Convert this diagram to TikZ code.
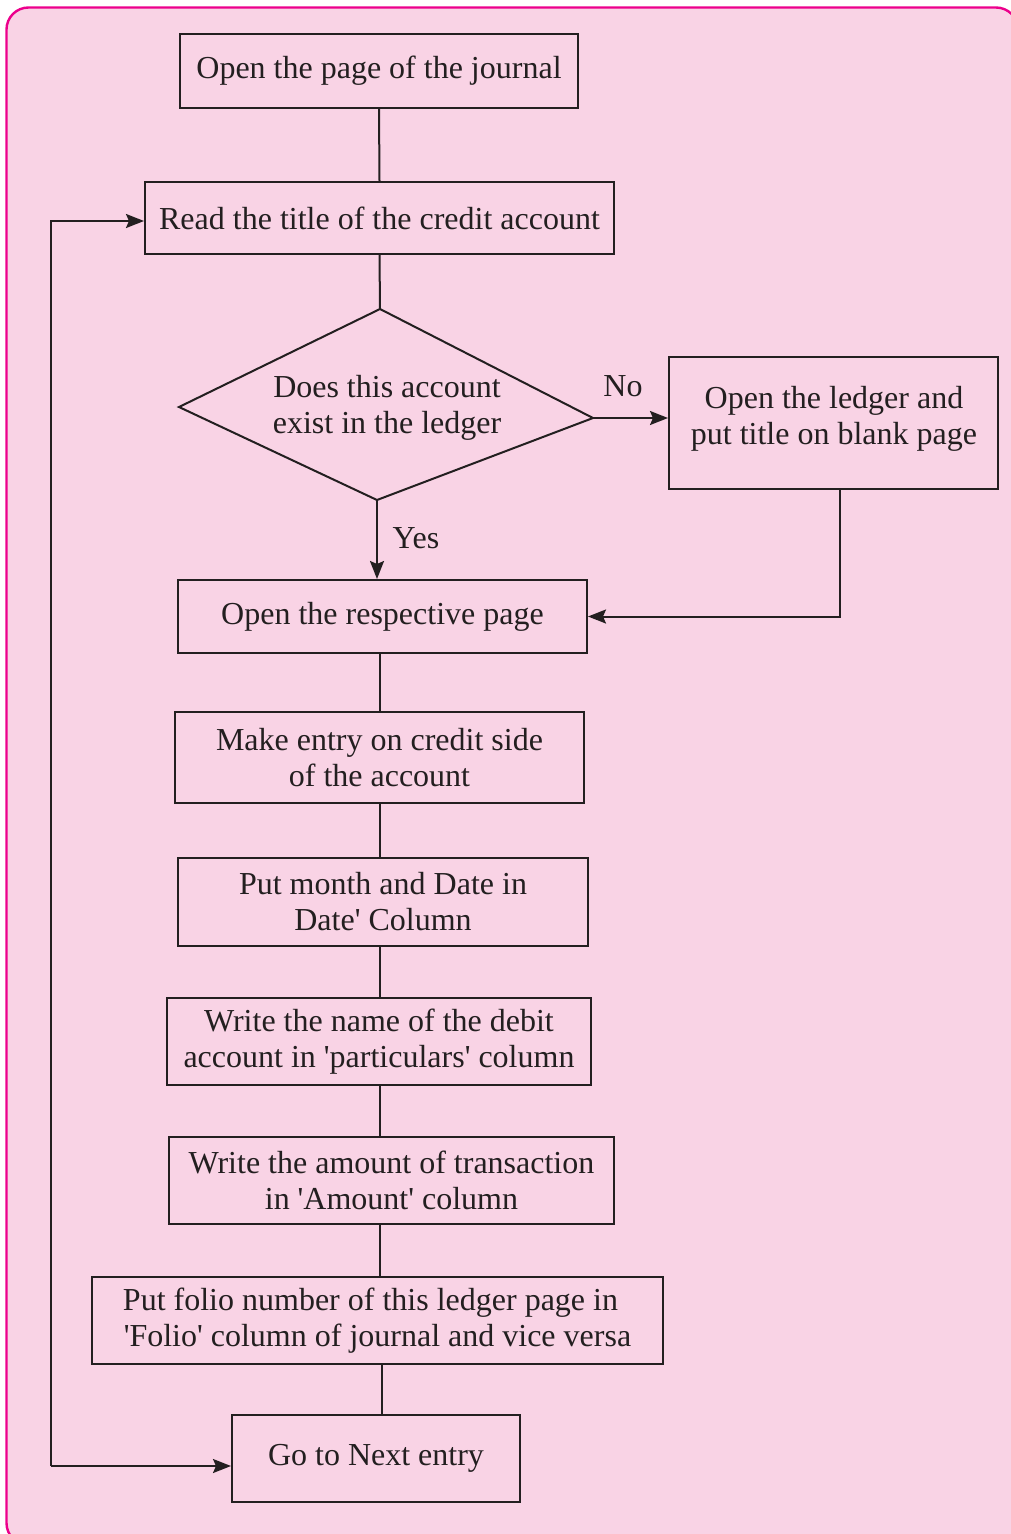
\documentclass[tikz,border=0pt]{standalone}
\usepackage{fontspec}
\setmainfont{Liberation Serif}
\usetikzlibrary{arrows.meta}
\definecolor{framec}{HTML}{EC008C}
\definecolor{fillc}{HTML}{F9D3E5}
\definecolor{inkc}{HTML}{231F20}
\newcommand{\q}{\textquotesingle}
\tikzset{
  stepbox/.style={draw=inkc, line width=2pt, inner sep=0pt, align=center,
    text=inkc, font=\fontsize{32}{36}\selectfont},
  lbl/.style={text=inkc, inner sep=0pt, font=\fontsize{32}{36}\selectfont},
  conn/.style={draw=inkc, line width=2pt},
  arr/.style={conn, -{Stealth[length=18pt,width=14pt,inset=3pt]}}
}
\begin{document}
\begin{tikzpicture}[x=1pt,y=-1pt]
\useasboundingbox (0,0) rectangle (1011,1534);
\clip (0,0) rectangle (1011,1534);
\draw[framec, fill=fillc, line width=2.4pt, rounded corners=22pt] (6.5,7.5) rectangle (1018,1545);

\node[stepbox, minimum width=398pt, minimum height=74pt] (b1) at (379,71) {Open the page of the journal};
\node[stepbox, minimum width=469pt, minimum height=72pt] (b2) at (379.5,218) {Read the title of the credit account};

\coordinate (dT) at (380,309);
\coordinate (dL) at (179,407);
\coordinate (dR) at (593,418);
\coordinate (dB) at (377,500);
\draw[conn, line join=miter] (dT) -- (dR) -- (dB) -- (dL) -- cycle;
\node[lbl, align=center] (dtext) at (387,408) {Does this account\\exist in the ledger};

\node[stepbox, minimum width=329pt, minimum height=132pt] (b4) at (833.5,423) {};
\node[lbl, align=center] (b4t) at (834,419) {Open the ledger and\\put title on blank page};
\node[stepbox, minimum width=409pt, minimum height=73pt] (b5) at (382.5,616.5) {Open the respective page};
\node[stepbox, minimum width=409pt, minimum height=91pt] (b6) at (379.5,757.5) {Make entry on credit side\\of the account};
\node[stepbox, minimum width=410pt, minimum height=88pt] (b7) at (383,902) {Put month and Date in\\Date\q{} Column};
\node[stepbox, minimum width=424pt, minimum height=87pt] (b8) at (379,1041.5) {Write the name of the debit\\account in \q particulars\q{} column};
\node[stepbox, minimum width=445pt, minimum height=87pt] (b9) at (391.5,1180.5) {Write the amount of transaction\\in \q Amount\q{} column};
\node[stepbox, minimum width=571pt, minimum height=87pt] (b10) at (377.5,1320.5) {Put folio number of this ledger page in\hspace*{14pt}\\\q Folio\q{} column of journal and vice versa};
\node[stepbox, minimum width=288pt, minimum height=87pt] (b11) at (376,1458.5) {Go to Next entry};

\node[lbl] (no) at (623,386) {No};
\node[lbl] (yes) at (416,538) {Yes};

\draw[conn] (b1.south) -- (b2.north);
\draw[conn] (b2.south) -- (dT);
\draw[arr] (dR) -- (b4.west |- dR);
\draw[arr] (dB) -- (dB |- b5.north);
\draw[arr] (b4.south -| 840,0) |- (b5.east);
\draw[conn] (b5.south -| 380,0) -- (b6.north -| 380,0);
\draw[conn] (b6.south -| 380,0) -- (b7.north -| 380,0);
\draw[conn] (b7.south -| 380,0) -- (b8.north -| 380,0);
\draw[conn] (b8.south -| 380,0) -- (b9.north -| 380,0);
\draw[conn] (b9.south -| 380,0) -- (b10.north -| 380,0);
\draw[conn] (b10.south -| 382,0) -- (b11.north -| 382,0);

\coordinate (lb) at (51,1466);
\coordinate (lt) at (51,221);
\draw[arr] (lb) -- (b11.west |- lb);
\draw[arr] (lb) -- (lt) -- (b2.west |- lt);
\end{tikzpicture}
\end{document}
